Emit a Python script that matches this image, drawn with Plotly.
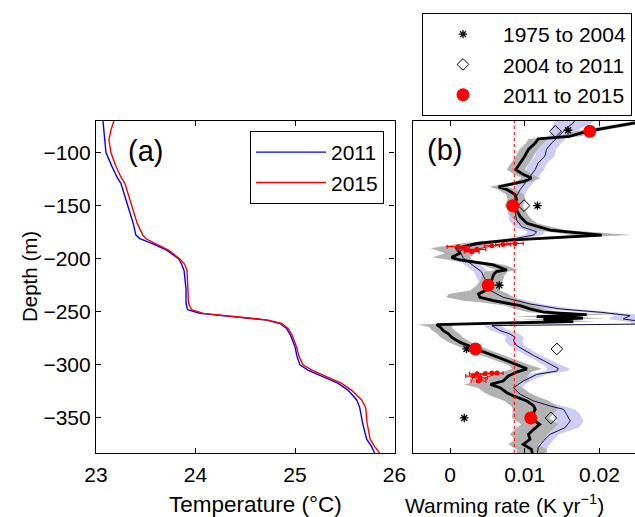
import numpy as np
import plotly.graph_objects as go
from plotly.subplots import make_subplots

# ---------------- Panel (a): temperature profiles ----------------
depth_a = [-70, -79, -88, -100, -113, -123, -129, -150, -167, -177.5, -181, -185.5, -192,
           -200, -205, -211, -229, -242, -248, -251.5, -254.6, -257.8, -261, -265.6, -272,
           -283, -292, -300, -305, -311, -317.5, -324, -333, -340, -355, -370, -377, -383]
temp_2011 = [23.07, 23.08, 23.09, 23.10, 23.16, 23.21, 23.25, 23.32, 23.375, 23.40, 23.44,
             23.56, 23.71, 23.83, 23.86, 23.885, 23.905, 23.905, 23.92, 24.045, 24.38, 24.715,
             24.85, 24.915, 24.955, 25.00, 25.02, 25.05, 25.13, 25.285, 25.435, 25.535, 25.62,
             25.65, 25.68, 25.72, 25.77, 25.80]
temp_2015 = [23.18, 23.15, 23.13, 23.15, 23.20, 23.25, 23.29, 23.36, 23.415, 23.47, 23.50,
             23.59, 23.73, 23.84, 23.89, 23.915, 23.92, 23.93, 23.96, 24.08, 24.41, 24.73,
             24.865, 24.93, 24.97, 25.015, 25.04, 25.08, 25.17, 25.32, 25.47, 25.57, 25.67,
             25.71, 25.725, 25.755, 25.80, 25.85]

# ---------------- Panel (b): warming rate profiles ----------------
depth_b1 = [-70, -72, -80, -84.7, -87.2, -91, -97, -103.5, -110, -116, -120.7, -124, -127,
            -130, -132.3, -134.8, -139.5, -144.2, -150, -154.2, -160.5, -166.7, -173, -177.7,
            -179.9, -182.4, -185.5, -190.2, -194.9, -198.7, -201.2, -204.3, -205.9, -210.6,
            -212.2, -215.3, -220, -225, -230, -233.2, -236.3, -239.5, -241, -244.2, -247.3,
            -250.4, -252.6, -254.5, -256, -257.5, -259.2, -260.7, -262, -264.5, -267.7, -270.8,
            -273.9, -278.6, -285, -286.5, -291.2, -295.9, -300.6, -303.7, -306.8, -310.5,
            -315.2, -318.4, -321.5, -326.2, -329.3, -334, -338.7, -341.9, -350, -356, -360.7,
            -365.4, -370.1, -374.8, -379.5, -383]
rate_2011_2015 = [0.0265, 0.0248, 0.0183, 0.0160, 0.0118, 0.0114, 0.0105, 0.0100, 0.0094,
                  0.0088, 0.0098, 0.0109, 0.0100, 0.0080, 0.0065, 0.0076, 0.0087, 0.0089,
                  0.0085, 0.0089, 0.0094, 0.0103, 0.0134, 0.0203, 0.0147, 0.0080, 0.0036,
                  0.0009, 0.0013, 0.0002, 0.0013, 0.0045, 0.0058, 0.0076, 0.0062, 0.0058,
                  0.0056, 0.0051, 0.0047, 0.0038, 0.0040, 0.0058, 0.0071, 0.0094, 0.0107,
                  0.0125, 0.0183, 0.0116, 0.0178, 0.0125, 0.0165, 0.0036, -0.0018, -0.0013,
                  -0.0009, -0.0002, 0.0002, 0.0013, 0.0034, 0.0040, 0.0058, 0.0076, 0.0094,
                  0.0103, 0.0089, 0.0078, 0.0071, 0.0054, 0.0067, 0.0076, 0.0085, 0.0103,
                  0.0112, 0.0114, 0.0108, 0.0120, 0.0112, 0.0105, 0.0107, 0.0098, 0.0109, 0.0110]
err_2011_2015 = [0.0015, 0.0015, 0.0015, 0.0015, 0.0013, 0.0012, 0.0012, 0.0012, 0.0012,
                 0.0012, 0.0012, 0.0012, 0.0012, 0.0012, 0.0012, 0.0012, 0.0012, 0.0012,
                 0.0012, 0.0012, 0.0012, 0.0013, 0.0020, 0.0040, 0.0030, 0.0020, 0.0020,
                 0.0035, 0.0020, 0.0025, 0.0015, 0.0015, 0.0015, 0.0015, 0.0015, 0.0015,
                 0.0015, 0.0015, 0.0020, 0.0040, 0.0045, 0.0040, 0.0030, 0.0020, 0.0020,
                 0.0020, 0.0030, 0.0030, 0.0030, 0.0030, 0.0030, 0.0025, 0.0025, 0.0015,
                 0.0015, 0.0015, 0.0015, 0.0015, 0.0015, 0.0015, 0.0015, 0.0015, 0.0015,
                 0.0020, 0.0020, 0.0025, 0.0035, 0.0035, 0.0030, 0.0030, 0.0030, 0.0030,
                 0.0030, 0.0030, 0.0025, 0.0025, 0.0025, 0.0025, 0.0020, 0.0020, 0.0020, 0.0020]

depth_b2 = [-69, -72.2, -76.9, -81.6, -86.3, -91, -97.2, -103.5, -109.8, -116, -122.3, -128.6,
            -134.8, -141.1, -154.2, -163.6, -169.9, -174.6, -177.7, -180.8, -184, -188.7,
            -193.4, -199.6, -204.3, -209, -212.2, -216.9, -221.6, -230, -236.3, -242.6, -247.3,
            -250.4, -253.6, -256.7, -259.8, -261.5, -263, -267.7, -270.8, -273.9, -277.1,
            -281.8, -286.5, -291.2, -295.9, -300.6, -303.5, -305.8, -309, -315.2, -321.5,
            -327.8, -334, -338.7, -341.9, -346.6, -352.8, -359.1, -362.2, -365.4, -371.6,
            -377.9, -383]
rate_2004_2011 = [0.0167, 0.0165, 0.0156, 0.0150, 0.0143, 0.0136, 0.0129, 0.0127, 0.0118,
                  0.0114, 0.0107, 0.0100, 0.0094, 0.0089, 0.0087, 0.0089, 0.0096, 0.0116,
                  0.0112, 0.0089, 0.0058, 0.0022, 0.0013, 0.0018, 0.0027, 0.0036, 0.0042,
                  0.0045, 0.0049, 0.0054, 0.0071, 0.0107, 0.0147, 0.0201, 0.0241, 0.0232,
                  0.0262, 0.0262, 0.0056, 0.0067, 0.0080, 0.0087, 0.0085, 0.0089, 0.0100,
                  0.0112, 0.0125, 0.0138, 0.0145, 0.0143, 0.0116, 0.0098, 0.0085, 0.0094,
                  0.0112, 0.0134, 0.0152, 0.0156, 0.0161, 0.0154, 0.0143, 0.0134, 0.0125,
                  0.0118, 0.0117]
err_2004_2011 = [0.0025, 0.0025, 0.0020, 0.0015, 0.0013, 0.0013, 0.0013, 0.0013, 0.0012,
                 0.0012, 0.0011, 0.0011, 0.0010, 0.0010, 0.0010, 0.0010, 0.0010, 0.0012,
                 0.0012, 0.0012, 0.0012, 0.0012, 0.0010, 0.0010, 0.0010, 0.0010, 0.0010,
                 0.0010, 0.0010, 0.0010, 0.0012, 0.0015, 0.0020, 0.0020, 0.0020, 0.0020,
                 0.0020, 0.0020, 0.0012, 0.0012, 0.0012, 0.0012, 0.0012, 0.0010, 0.0010,
                 0.0010, 0.0010, 0.0012, 0.0015, 0.0015, 0.0012, 0.0010, 0.0010, 0.0010,
                 0.0012, 0.0015, 0.0015, 0.0018, 0.0018, 0.0018, 0.0015, 0.0012, 0.0012,
                 0.0012, 0.0012]

mean_rate = 0.0086

# point estimates at selected depths
star_depth = [-79, -150, -225, -285, -350]
star_rate = [0.0158, 0.0117, 0.0066, 0.0022, 0.0019]
diam_depth = [-80, -150, -285, -350]
diam_rate = [0.0141, 0.0099, 0.0143, 0.0135]
circ_depth = [-80, -150, -225, -285, -350]
circ_rate = [0.0187, 0.0084, 0.0051, 0.0034, 0.0108]

# small red estimates with horizontal error bars
red1_depth = [-188.7, -191.8, -193.4, -191.2, -187.8, -186.5, -185.6]
red1_rate = [0.0011, 0.0022, 0.0029, 0.0036, 0.0056, 0.0071, 0.0087]
red1_err = [0.0015, 0.0012, 0.0010, 0.0012, 0.0010, 0.0010, 0.0011]
red2_depth = [-308.4, -312.1, -308.4, -307.7, -307.7, -315.2, -310.5]
red2_rate = [0.0036, 0.0040, 0.0047, 0.0056, 0.0063, 0.0038, 0.0031]
red2_err = [0.0010, 0.0010, 0.0010, 0.0008, 0.0008, 0.0010, 0.0010]

W, H = 635, 517
FONT = "Liberation Sans, Arial, Helvetica, sans-serif"


def band(depth, rate, err):
    d = np.array(depth, dtype=float)
    r = np.array(rate, dtype=float)
    e = np.array(err, dtype=float)
    x = np.concatenate([r - e, (r + e)[::-1]])
    y = np.concatenate([d, d[::-1]])
    return x, y


fig = make_subplots(rows=1, cols=2)

# panel (a)
fig.add_trace(go.Scatter(x=temp_2011, y=depth_a, mode="lines", name="2011",
                         line=dict(color="#0000ff", width=1.4), legend="legend"), 1, 1)
fig.add_trace(go.Scatter(x=temp_2015, y=depth_a, mode="lines", name="2015",
                         line=dict(color="#ff0000", width=1.4), legend="legend"), 1, 1)

# panel (b) bands
bx, by = band(depth_b2, rate_2004_2011, err_2004_2011)
fig.add_trace(go.Scatter(x=bx, y=by, fill="toself", fillcolor="rgb(204,204,245)",
                         line=dict(width=0), mode="lines", showlegend=False,
                         hoverinfo="skip"), 1, 2)
gx, gy = band(depth_b1, rate_2011_2015, err_2011_2015)
fig.add_trace(go.Scatter(x=gx, y=gy, fill="toself", fillcolor="rgb(178,178,178)",
                         line=dict(width=0), mode="lines", showlegend=False,
                         hoverinfo="skip"), 1, 2)
fig.add_trace(go.Scatter(x=rate_2004_2011, y=depth_b2, mode="lines",
                         line=dict(color="#10103a", width=1), showlegend=False), 1, 2)
fig.add_trace(go.Scatter(x=rate_2011_2015, y=depth_b1, mode="lines",
                         line=dict(color="black", width=2.8), showlegend=False), 1, 2)

fig.add_vline(x=mean_rate, line=dict(color="red", width=1, dash="dot"), row=1, col=2)

for dd, rr, ee in [(red1_depth, red1_rate, red1_err), (red2_depth, red2_rate, red2_err)]:
    fig.add_trace(go.Scatter(x=rr, y=dd, mode="lines+markers",
                             marker=dict(color="red", size=5),
                             line=dict(color="red", width=1),
                             error_x=dict(type="data", array=ee, color="red",
                                          thickness=1.2, width=2),
                             showlegend=False), 1, 2)

fig.add_trace(go.Scatter(x=star_rate, y=star_depth, mode="markers", name="1975 to 2004",
                         marker=dict(symbol="asterisk", size=7, color="black",
                                     line=dict(color="black", width=1.3)),
                         legend="legend2"), 1, 2)
fig.add_trace(go.Scatter(x=diam_rate, y=diam_depth, mode="markers", name="2004 to 2011",
                         marker=dict(symbol="diamond-open", size=9, color="black",
                                     line=dict(color="black", width=1)),
                         legend="legend2"), 1, 2)
fig.add_trace(go.Scatter(x=circ_rate, y=circ_depth, mode="markers", name="2011 to 2015",
                         marker=dict(symbol="circle", size=13, color="red",
                                     line=dict(width=0)),
                         legend="legend2"), 1, 2)

ydom = [(H - 453) / H, (H - 120.7) / H]
axis_common = dict(showline=True, linecolor="black", linewidth=1.2,
                   ticklen=5, tickwidth=1, tickcolor="black", showgrid=False,
                   zeroline=False, automargin=False,
                   tickfont=dict(family=FONT, size=21, color="black"))

fig.update_xaxes(domain=[96 / W, 394.5 / W], range=[23, 26], tickvals=[23, 24, 25, 26],
                 mirror="ticks", ticks="inside", ticklabelstandoff=3,
                 row=1, col=1, **axis_common)
fig.update_yaxes(domain=ydom, range=[-383, -70], tickvals=[-100, -150, -200, -250, -300, -350],
                 mirror="ticks", ticks="inside", row=1, col=1, **axis_common)
fig.update_xaxes(domain=[412.7 / W, 1.0], range=[-0.005, -0.005 + (635 - 412.7) / 7470],
                 tickvals=[0, 0.01, 0.02], ticktext=["0", "0.01", "0.02"], mirror="ticks",
                 ticks="inside", ticklabelstandoff=3, row=1, col=2, **axis_common)
fig.update_yaxes(domain=ydom, range=[-383, -70], ticks="",
                 showticklabels=False, mirror=False, row=1, col=2, **axis_common)

# axis titles
fig.add_annotation(text="Temperature (°C)", xref="paper", yref="paper",
                   x=255.5 / W, y=1 - 504 / H, xanchor="center", yanchor="middle",
                   showarrow=False, font=dict(family=FONT, size=22.5, color="black"))
fig.add_annotation(text="Depth (m)", xref="paper", yref="paper", textangle=-90,
                   x=29 / W, y=1 - 277 / H, xanchor="center", yanchor="middle",
                   showarrow=False, font=dict(family=FONT, size=20.5, color="black"))
fig.add_annotation(text="Warming rate (K yr<sup>−1</sup>)", xref="paper", yref="paper",
                   x=504 / W, y=1 - 504 / H, xanchor="center", yanchor="middle",
                   showarrow=False, font=dict(family=FONT, size=21, color="black"))
fig.add_annotation(text="(a)", xref="paper", yref="paper", x=126 / W, y=1 - 151 / H,
                   xanchor="left", yanchor="middle", showarrow=False,
                   font=dict(family=FONT, size=29, color="black"))
fig.add_annotation(text="(b)", xref="paper", yref="paper", x=425 / W, y=1 - 150 / H,
                   xanchor="left", yanchor="middle", showarrow=False,
                   font=dict(family=FONT, size=29, color="black"))

legend_font = dict(family=FONT, size=21, color="black")
fig.update_layout(
    width=W, height=H,
    margin=dict(l=0, r=0, t=0, b=0),
    paper_bgcolor="white", plot_bgcolor="white",
    font=dict(family=FONT, size=21, color="black"),
    legend=dict(x=384 / W, y=1 - 131 / H, xanchor="right", yanchor="top",
                bordercolor="black", borderwidth=1, bgcolor="white", font=legend_font,
                itemwidth=70, tracegroupgap=0),
    legend2=dict(x=632 / W, y=1 - 13 / H, xanchor="right", yanchor="top",
                 bordercolor="black", borderwidth=1, bgcolor="white", font=legend_font,
                 itemwidth=70, tracegroupgap=0),
    showlegend=True,
)

fig.write_html("out.html", config={"displayModeBar": False},
               post_script="document.body.style.margin='0';")
